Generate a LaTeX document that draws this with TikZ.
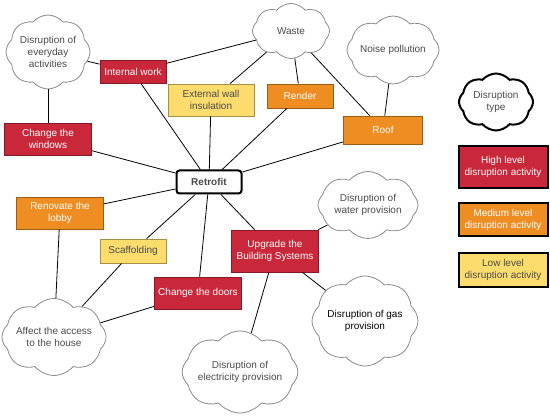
\documentclass[tikz,border=0pt]{standalone}
\usepackage{fontspec}
\setmainfont{Liberation Sans}
\usepackage{tikz}
\usetikzlibrary{shapes.symbols}
\definecolor{hired}{HTML}{C9283B}
\definecolor{midorange}{HTML}{EE8D22}
\definecolor{lowyellow}{HTML}{FCDC6D}
\definecolor{cloudgray}{HTML}{8A8A8A}
\definecolor{txtgray}{HTML}{4A4A4A}

\begin{document}
\begin{tikzpicture}[x=1pt,y=-1pt,
  font=\fontsize{10}{12}\selectfont,
  act/.style={draw=#1!65!black, line width=0.8pt, fill=#1, text=white, align=center, inner sep=1pt},
  lowact/.style={act=lowyellow, text=txtgray},
  impact/.style={cloud, cloud puffs=8, cloud puff arc=100, cloud ignores aspect, draw=cloudgray,
    line width=0.8pt, fill=white, text=txtgray, align=center, inner sep=0pt},
  legbox/.style={draw=black, line width=2pt, align=center, minimum width=89pt, inner sep=1pt},
  link/.style={draw=black, line width=0.8pt}]
\useasboundingbox (0,0) rectangle (550,417);

% hub
\node[draw=black, line width=2pt, rounded corners=3pt, fill=white, minimum width=65pt, minimum height=23pt,
  font=\fontsize{10}{12}\selectfont\bfseries, text=txtgray] (retro) at (209,182) {Retrofit};

% disruption types
\node[impact, minimum width=84pt, minimum height=74pt] (everyday) at (48,52) {Disruption of\\everyday\\activities};
\node[impact, minimum width=77pt, minimum height=55pt] (waste) at (291,31) {Waste};
\node[impact, minimum width=92pt, minimum height=68pt] (noise) at (393,50) {Noise pollution};
\node[impact, minimum width=100pt, minimum height=67pt] (water) at (368,205) {Disruption of\\water provision};
\node[impact, minimum width=106pt, minimum height=90pt, text=black] (gas) at (365,321) {Disruption of gas\\provision};
\node[impact, minimum width=106pt, minimum height=82pt] (elec) at (240,372) {Disruption of\\electricity provision};
\node[impact, minimum width=101pt, minimum height=77pt] (access) at (54,337) {Affect the access\\to the house};

% activities
\node[act=hired, minimum width=66pt, minimum height=23pt] (internal) at (133,72) {Internal work};
\node[lowact, minimum width=86pt, minimum height=32pt] (extwall) at (211,100) {External wall\\insulation};
\node[act=midorange, minimum width=66pt, minimum height=24pt] (render) at (300,96) {Render};
\node[act=midorange, minimum width=79pt, minimum height=28pt] (roof) at (383,130) {Roof};
\node[act=hired, minimum width=87pt, minimum height=32pt] (windows) at (48,139) {Change the\\windows};
\node[act=midorange, minimum width=87pt, minimum height=32pt] (lobby) at (60,213) {Renovate the\\lobby};
\node[lowact, minimum width=66pt, minimum height=24pt] (scaff) at (133,251) {Scaffolding};
\node[act=hired, minimum width=87pt, minimum height=32pt] (doors) at (198,293) {Change the doors};
\node[act=hired, minimum width=87pt, minimum height=42pt] (upgrade) at (275,251) {Upgrade the\\Building Systems};

% links
\foreach \a/\b in {everyday/internal, everyday/windows, internal/waste, internal/retro,
  extwall/retro, extwall/waste, render/waste, render/retro, roof/waste, roof/noise, roof/retro,
  windows/retro, lobby/retro, lobby/access, scaff/retro, scaff/access, doors/retro, doors/access,
  upgrade/retro, upgrade/water, upgrade/gas, upgrade/elec}
  \draw[link] (\a) -- (\b);

% legend
\node[impact, draw=black, line width=2pt, minimum width=74pt, minimum height=57pt] (legcloud) at (496,102) {Disruption\\type};
\node[legbox, fill=hired, text=white, minimum height=42pt] (leghigh) at (503,167) {High level\\disruption activity};
\node[legbox, fill=midorange, text=white, minimum height=33pt] (legmid) at (503,220) {Medium level\\disruption activity};
\node[legbox, fill=lowyellow, text=txtgray, minimum height=34pt] (leglow) at (503,270) {Low level\\disruption activity};
\end{tikzpicture}
\end{document}
